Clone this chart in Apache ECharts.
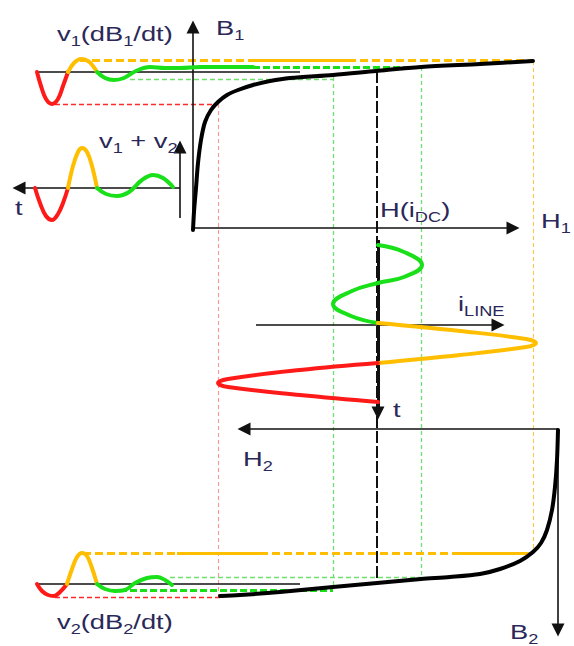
<!DOCTYPE html>
<html>
<head>
<meta charset="utf-8">
<script src="https://cdn.jsdelivr.net/npm/echarts@6/dist/echarts.min.js"></script>
<style>
html,body{margin:0;padding:0;background:#ffffff;}
#chart{width:574px;height:646px;}
</style>
</head>
<body>
<div id="chart"></div>
<script>
// Upper core magnetisation curve B1(H1), drawing units
const bhUpper = [[193,230],[194,212],[196,188],[198,163],[201,140],[205,122],[211,110],[218,102],[227,95],[238,90],[253,85],[270,81],[290,78],[333,75],[376,71],[421,67],[480,64],[533,61]];
// Lower core magnetisation curve B2(H2), mirrored
const bhLower = [[558,430],[557,460],[555,487],[552,510],[547,530],[541,543],[533,552],[520,561],[500,569],[480,574],[450,577],[421,579],[377,583],[333,587],[280,592],[240,595],[220,596]];

// Line current around H(iDC), time running downward
const iLineGreen  = [[378,245],[404,252],[422,265],[404,277],[378,283],[352,291],[333,304],[351,316],[378,323]];
const iLineOrange = [[378,323],[460,331],[526,339],[536,343],[526,347],[460,355],[378,363]];
const iLineRed    = [[378,363],[300,370],[228,379],[218,383],[228,387],[300,395],[378,402]];

// Induced voltage v1 = dB1/dt
const v1Red    = [[37,72],[41,86],[46,99],[52,104],[58,99],[63,86],[68,72]];
const v1Orange = [[68,72],[74,63],[81,59],[88,61],[93,66],[97,72]];
const v1Green  = [[97,72],[105,78],[114,80],[124,78],[136,71],[150,67],[165,68],[180,68],[200,67],[253,67]];

// Induced voltage v2 = dB2/dt
const v2Red    = [[37,584],[42,591],[48,595],[54,596],[60,592],[67,584]];
const v2Orange = [[67,584],[72,569],[77,557],[82,553],[87,556],[92,568],[97,584]];
const v2Green  = [[97,584],[105,589],[115,591],[125,590],[135,583],[147,578],[157,577],[165,580],[172,585]];

// Sum v1 + v2
const vSumRed    = [[35,188],[40,203],[46,216],[52,220],[58,214],[63,203],[68,188]];
const vSumOrange = [[68,188],[73,166],[78,152],[82,148],[87,152],[92,166],[97,188]];
const vSumGreen  = [[97,188],[106,194],[117,196],[129,192],[142,180],[153,175],[163,178],[173,187]];

// Axes (start, end) with arrow heads at the end
const axesThin = [
  [[193,230],[193,27]],   // B1
  [[193,228],[513,228]],  // H1
  [[180,188],[19,188]],   // t of v1+v2
  [[180,218],[180,147]],  // v1+v2
  [[256,325],[498,325]],  // iLINE
  [[558,429],[244,429]],  // H2
  [[558,429],[558,630]]   // B2
];
const axisTime = [[[378,240],[378,413]]];
const baselines = [[[37,72],[300,72]], [[37,584],[300,584]]];

// Projection guides between the curves, the current and the voltages
const orangeDashed = [[[80,60],[253,60]], [[348,60],[533,60]], [[83,553],[177,553]], [[260,553],[453,553]]];
const orangeSolid  = [[[253,60],[348,60]], [[177,553],[260,553]], [[453,553],[533,553]]];
const greenBold    = [[[253,67],[421,67]], [[120,590],[333,590]]];
const greenThin    = [[[130,79],[333,79]], [[170,577],[421,577]]];
const redThin      = [[[55,104],[218,104]], [[55,597],[220,597]]];
const vRed    = [[[218,104],[218,596]]];
const vGreen  = [[[333,77],[333,588]], [[421,67],[421,579]]];
const vOrange = [[[533,61],[533,553]]];
const vBlack  = [[[377,71],[377,583]]];

const RED = '#ff1a1a', ORANGE = '#ffbf00', GREEN = '#19e019', INK = '#2a2858';

function curve(data, color, width, smooth, z) {
  return { type: 'line', data: data, symbol: 'none', showSymbol: false, smooth: smooth,
    clip: false, silent: true, animation: false, z: z,
    lineStyle: { color: color, width: width, cap: 'round', join: 'round' } };
}
function segs(list, color, width, dash, z, arrow) {
  return { type: 'lines', coordinateSystem: 'cartesian2d', silent: true, animation: false, z: z,
    data: list.map(function (c) { return { coords: c }; }),
    symbol: arrow ? ['none', 'triangle'] : 'none', symbolSize: arrow ? 13 : 0,
    lineStyle: { color: color, width: width, type: dash, opacity: 1, curveness: 0 } };
}

const series = [
  segs(vRed, '#ff9494', 1.1, [4, 3], 1),
  segs(vGreen, '#70e070', 1.3, [4, 3], 1),
  segs(vOrange, '#ffc84a', 1.1, [4, 3], 1),
  segs(vBlack, '#111111', 2, [12, 3], 2),
  segs(redThin, '#ff2a2a', 1.3, [5, 3], 3),
  segs(greenThin, '#6fe06f', 1.3, [5, 3], 3),
  segs(orangeDashed, ORANGE, 3, [8, 4], 3),
  segs(orangeSolid, ORANGE, 3, 'solid', 3),
  segs(greenBold, GREEN, 3, [7, 3], 3),
  segs(baselines, '#111111', 1.5, 'solid', 4),
  segs(axesThin, '#111111', 1.6, 'solid', 5, true),
  segs(axisTime, '#111111', 3, 'solid', 5, true),
  curve(bhUpper, '#000000', 4, 0.3, 6),
  curve(bhLower, '#000000', 4, 0.3, 6),
  curve(iLineGreen, GREEN, 4, 0.45, 7),
  curve(iLineOrange, ORANGE, 4, 0.4, 7),
  curve(iLineRed, RED, 4, 0.4, 7),
  curve(v1Red, RED, 4, 0.4, 7),
  curve(v1Orange, ORANGE, 4, 0.4, 7),
  curve(v1Green, GREEN, 4, 0.4, 7),
  curve(v2Red, RED, 4, 0.4, 7),
  curve(v2Orange, ORANGE, 4, 0.4, 7),
  curve(v2Green, GREEN, 4, 0.4, 7),
  curve(vSumRed, RED, 4, 0.4, 7),
  curve(vSumOrange, ORANGE, 4, 0.4, 7),
  curve(vSumGreen, GREEN, 4, 0.4, 7)
];

const SUB = { fontSize: 14, lineHeight: 14, verticalAlign: 'bottom', fill: INK, fontFamily: 'Liberation Sans' };
function label(text, x, y) {
  return { type: 'text', x: x, y: y, scaleX: 1.3, z: 20, silent: true,
    style: { text: text, fill: INK, font: '21px "Liberation Sans"', verticalAlign: 'middle',
      rich: { m: { fontSize: 21, lineHeight: 28, verticalAlign: 'middle', fill: INK, fontFamily: 'Liberation Sans' }, s: SUB } } };
}

const chart = echarts.init(document.getElementById('chart'), null, { renderer: 'svg' });
chart.setOption({
  animation: false,
  grid: { left: 0, right: 0, top: 0, bottom: 0 },
  xAxis: { type: 'value', min: 0, max: 574, show: false },
  yAxis: { type: 'value', min: 0, max: 646, inverse: true, show: false },
  series: series,
  graphic: [
    label('{m|v}{s|1}{m|(dB}{s|1}{m|/dt)}', 57, 34),
    label('{m|B}{s|1}', 216, 28),
    label('{m|v}{s|1}{m| + v}{s|2}', 99, 141),
    label('{m|t}', 15, 208),
    label('{m|H(i}{s|DC}{m|)}', 380, 210),
    label('{m|H}{s|1}', 541, 221),
    label('{m|i}{s|LINE}', 458, 304),
    label('{m|t}', 393, 410),
    label('{m|H}{s|2}', 243, 459),
    label('{m|v}{s|2}{m|(dB}{s|2}{m|/dt)}', 57, 622),
    label('{m|B}{s|2}', 510, 632)
  ]
});
</script>
</body>
</html>
